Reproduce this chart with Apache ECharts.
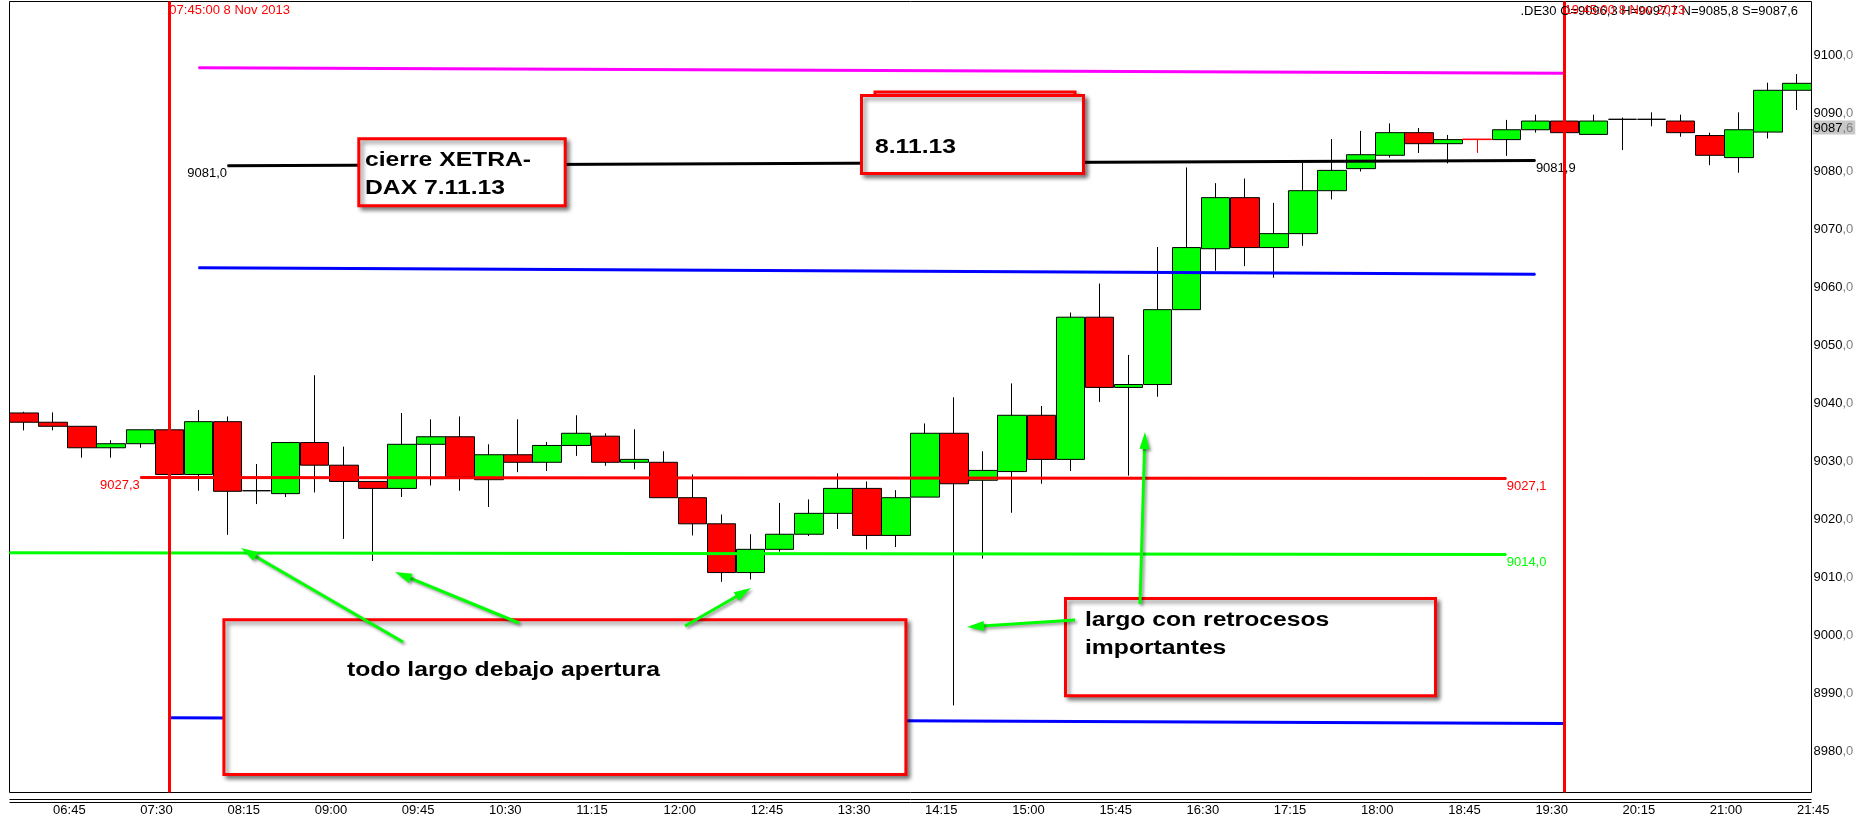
<!DOCTYPE html>
<html>
<head>
<meta charset="utf-8">
<title>DAX 8 Nov 2013</title>
<script src="https://cdn.jsdelivr.net/npm/echarts@6/dist/echarts.min.js"></script>
<style>
  html, body { margin: 0; padding: 0; background: #fff; }
  #chart { width: 1857px; height: 820px; }
</style>
</head>
<body>
<div id="chart"></div>
<script>
// velas de 15 minutos, 8 Nov 2013
const times = [
  '06:30', '06:45', '07:00', '07:15', '07:30', '07:45', '08:00', '08:15', '08:30', '08:45',
  '09:00', '09:15', '09:30', '09:45', '10:00', '10:15', '10:30', '10:45', '11:00', '11:15',
  '11:30', '11:45', '12:00', '12:15', '12:30', '12:45', '13:00', '13:15', '13:30', '13:45',
  '14:00', '14:15', '14:30', '14:45', '15:00', '15:15', '15:30', '15:45', '16:00', '16:15',
  '16:30', '16:45', '17:00', '17:15', '17:30', '17:45', '18:00', '18:15', '18:30', '18:45',
  '19:00', '19:15', '19:30', '19:45', '20:00', '20:15', '20:30', '20:45', '21:00', '21:15',
  '21:30', '21:45'
]
const openVals = [
  9038.4, 9036.8, 9036.1, 9032.4, 9033.1, 9035.5, 9027.8, 9036.9, 9025.0, 9024.5,
  9033.3, 9029.4, 9026.6, 9025.4, 9033.0, 9034.3, 9026.9, 9031.2, 9029.9, 9032.8,
  9034.4, 9029.9, 9029.9, 9023.8, 9019.3, 9010.9, 9014.9, 9017.5, 9021.1, 9025.4,
  9017.3, 9023.9, 9034.9, 9026.8, 9028.3, 9038.0, 9030.4, 9054.9, 9042.8, 9043.3,
  9056.2, 9066.7, 9075.5, 9066.9, 9069.3, 9076.7, 9080.5, 9082.8, 9086.7, 9084.8,
  9085.6, 9085.5, 9087.2, 9088.7, 9086.4, 9089.0, 9089.0, 9088.7, 9086.2, 9082.4,
  9086.8, 9094.0
]
const closeVals = [
  9036.8, 9036.1, 9032.4, 9033.1, 9035.5, 9027.8, 9036.9, 9024.9, 9025.0, 9033.3,
  9029.4, 9026.6, 9025.4, 9033.0, 9034.3, 9027.4, 9031.2, 9029.9, 9032.8, 9034.9,
  9029.9, 9030.4, 9023.8, 9019.3, 9010.9, 9014.9, 9017.5, 9021.1, 9025.4, 9017.3,
  9023.8, 9034.9, 9026.2, 9028.5, 9038.0, 9030.4, 9054.9, 9042.8, 9043.3, 9056.2,
  9066.9, 9075.5, 9066.9, 9069.3, 9076.7, 9080.2, 9082.9, 9086.7, 9084.8, 9085.5,
  9085.5, 9087.2, 9088.7, 9086.7, 9088.7, 9089.0, 9089.0, 9086.7, 9082.8, 9087.2,
  9094.0, 9095.2
]
const lowVals = [
  9035.4, 9035.4, 9030.7, 9030.7, 9032.4, 9027.6, 9025.0, 9017.4, 9022.7, 9023.9,
  9024.7, 9016.7, 9012.9, 9023.9, 9025.9, 9025.0, 9022.2, 9028.2, 9028.4, 9031.0,
  9029.3, 9028.7, 9023.8, 9017.3, 9009.3, 9009.7, 9014.5, 9017.2, 9018.4, 9014.9,
  9015.3, 9023.9, 8988.0, 9013.3, 9021.2, 9026.2, 9028.4, 9040.3, 9027.6, 9041.2,
  9056.2, 9062.9, 9063.7, 9061.7, 9067.2, 9075.2, 9080.0, 9082.4, 9083.2, 9081.4,
  9083.2, 9082.7, 9086.7, 9086.7, 9086.4, 9083.7, 9087.8, 9086.0, 9081.1, 9079.8,
  9085.7, 9090.6
]
const highVals = [
  9038.6, 9038.5, 9036.1, 9033.7, 9035.5, 9035.5, 9038.9, 9037.8, 9029.6, 9033.3,
  9044.9, 9032.6, 9026.6, 9038.4, 9037.3, 9037.8, 9033.0, 9037.3, 9033.4, 9038.0,
  9034.9, 9035.6, 9031.8, 9027.8, 9020.9, 9017.5, 9022.9, 9023.5, 9028.0, 9026.6,
  9025.1, 9036.6, 9041.1, 9031.8, 9043.5, 9039.6, 9055.7, 9060.7, 9048.4, 9067.0,
  9080.7, 9078.0, 9078.8, 9074.6, 9081.5, 9085.6, 9087.0, 9088.3, 9087.5, 9086.3,
  9085.6, 9088.9, 9089.8, 9088.7, 9089.8, 9089.3, 9090.2, 9089.8, 9086.7, 9090.2,
  9095.3, 9096.8
]

// niveles horizontales: desde / hasta (en velas) y valor al inicio y al final
const levelNames = ['maximo', 'cierre', 'r1', 'apertura', 'soporte', 's1']
const levelFrom = [6, 7, 6, 4, -0.5, 5]
const levelTo = [53, 52, 52, 51, 51, 53]
const levelStartVals = [9097.9, 9081.0, 9063.4, 9027.3, 9014.3, 8985.9]
const levelEndVals = [9096.95, 9081.9, 9062.3, 9027.1, 9014.0, 8984.9]

const yTicks = [8980, 8990, 9000, 9010, 9020, 9030, 9040, 9050, 9060, 9070, 9080, 9090, 9100]
const markedTimes = ['07:45', '19:45']
const cursorPrice = 9087.6
const quoteText = '.DE30 O=9096,3 H=9097,7 N=9085,8 S=9087,6'

// estilos
const levelColors = ['#ff00ff', '#000000', '#0000ff', '#ff0000', '#00ff00', '#0000ff']
const labelAtStart = [false, true, false, true, false, false]
const labelAtEnd = [false, true, false, true, true, false]

function fontExists(name) {
  const ctx = document.createElement('canvas').getContext('2d')
  const probe = '9100,0 07:45:00 Nov'
  ctx.font = '40px monospace'
  const base = ctx.measureText(probe).width
  ctx.font = '40px "' + name + '", monospace'
  return ctx.measureText(probe).width !== base
}
const hasNarrow = fontExists('Liberation Sans Narrow')
const smallFamily = hasNarrow ? '"Liberation Sans Narrow", "Arial Narrow", sans-serif' : '"Liberation Sans", Arial, sans-serif'
const smallSize = hasNarrow ? 15 : 13
const smallFont = smallSize + 'px ' + smallFamily
const noteFont = 'bold 20px "Liberation Sans", Arial, sans-serif'

const fmt = v => v.toFixed(1).replace('.', ',')
const richNum = v => {
  const parts = v.toFixed(1).split('.')
  return '{a|' + parts[0] + '}{b|,' + parts[1] + '}'
}
const richStyle = {
  a: { color: '#000', fontFamily: smallFamily, fontSize: smallSize },
  b: { color: '#808080', fontFamily: smallFamily, fontSize: smallSize },
}

const candleData = times.map((t, i) => {
  const item = { value: [openVals[i], closeVals[i], lowVals[i], highVals[i]] }
  // la vela de las 19:00 se dibuja toda en rojo
  if (t === '19:00') {
    item.itemStyle = { borderColor: '#ff0000', borderColor0: '#ff0000', borderColorDoji: '#ff0000' }
  }
  return item
})

const levelSeries = levelNames.map((name, k) => {
  const lbl = (show, pos) => ({
    show,
    position: pos,
    distance: 0,
    offset: [0, 8],
    color: levelColors[k],
    fontFamily: smallFamily,
    fontSize: smallSize,
    formatter: p => fmt(p.value[1]),
  })
  return {
    type: 'line',
    name,
    xAxisIndex: 1,
    yAxisIndex: 0,
    z: 3,
    silent: true,
    symbol: 'circle',
    symbolSize: 1,
    showSymbol: true,
    lineStyle: { color: levelColors[k], width: 3 },
    itemStyle: { color: levelColors[k] },
    data: [
      { value: [levelFrom[k], levelStartVals[k]], label: lbl(labelAtStart[k], 'left') },
      { value: [levelTo[k], levelEndVals[k]], label: lbl(labelAtEnd[k], 'right') },
    ],
  }
})

const option = {
  animation: false,
  backgroundColor: '#fff',
  grid: {
    left: 9.5,
    top: 1.5,
    right: 45.5,
    bottom: 27.5,
    show: true,
    borderColor: '#000',
    borderWidth: 1,
    backgroundColor: '#fff',
    containLabel: false,
    outerBoundsMode: 'none',
  },
  xAxis: [
    {
      type: 'category',
      data: times,
      boundaryGap: true,
      axisLine: { show: false },
      axisTick: { show: false },
      splitLine: { show: false },
      axisLabel: {
        interval: i => (i - 1) % 3 === 0,
        align: 'left',
        margin: 11,
        color: '#000',
        fontFamily: smallFamily,
        fontSize: smallSize,
      },
    },
    { type: 'value', min: -0.5, max: 61.5, show: false },
  ],
  yAxis: {
    type: 'value',
    position: 'right',
    min: 8973.0,
    max: 9109.3,
    axisLine: { show: false },
    axisTick: { show: false },
    splitLine: { show: false },
    axisLabel: {
      customValues: yTicks,
      margin: 2,
      formatter: v => richNum(v),
      rich: richStyle,
    },
  },
  series: [
    {
      type: 'candlestick',
      name: '.DE30',
      xAxisIndex: 0,
      yAxisIndex: 0,
      z: 2,
      barWidth: '100%',
      silent: true,
      itemStyle: {
        color: '#00ff00',
        color0: '#ff0000',
        borderColor: '#000',
        borderColor0: '#000',
        borderColorDoji: '#000',
        borderWidth: 1,
      },
      data: candleData,
      markLine: {
        silent: true,
        symbol: ['none', 'none'],
        animation: false,
        lineStyle: { color: '#ff0000', width: 3, type: 'solid' },
        label: { show: false },
        data: [
          ...markedTimes.map(t => ({ xAxis: t })),
          {
            yAxis: cursorPrice,
            lineStyle: { width: 0, color: 'rgba(0,0,0,0)' },
            label: {
              show: true,
              position: 'end',
              distance: 1,
              backgroundColor: '#c8c8c8',
              padding: [1, 2, 0, 1],
              formatter: () => richNum(cursorPrice),
              rich: richStyle,
            },
          },
        ],
      },
    },
    ...levelSeries,
  ],
}

const chart = echarts.init(document.getElementById('chart'))
chart.setOption(option)

// anotaciones dibujadas a mano sobre el gráfico
const shadow = { shadowBlur: 4, shadowOffsetX: 3, shadowOffsetY: 3, shadowColor: 'rgba(0,0,0,0.45)' }

function box(x, y, w, h) {
  return {
    type: 'rect',
    z: 50,
    shape: { x, y, width: w, height: h },
    style: Object.assign({ fill: '#fff', stroke: '#ff0000', lineWidth: 3 }, shadow),
  }
}

function note(text, x, y, color) {
  return {
    type: 'text',
    z: 51,
    x,
    y,
    scaleX: 1.235,
    style: {
      x: 0, y: 0, text, font: noteFont, fill: color || '#000',
      align: 'left', textAlign: 'left', verticalAlign: 'middle', textVerticalAlign: 'middle',
    },
  }
}

function small(text, x, y, color, align) {
  return {
    type: 'text',
    z: 40,
    x,
    y,
    style: {
      x: 0, y: 0, text, font: smallFont, fill: color,
      align: align || 'left', textAlign: align || 'left',
      verticalAlign: 'middle', textVerticalAlign: 'middle',
    },
  }
}

function arrow(x1, y1, x2, y2) {
  const ang = Math.atan2(y2 - y1, x2 - x1)
  const len = 17
  const half = 5
  const bx = x2 - len * Math.cos(ang)
  const by = y2 - len * Math.sin(ang)
  const nx = -Math.sin(ang) * half
  const ny = Math.cos(ang) * half
  const s = { shadowBlur: 3, shadowOffsetX: 2, shadowOffsetY: 2, shadowColor: 'rgba(0,0,0,0.4)' }
  return [
    {
      type: 'line', z: 60,
      shape: { x1, y1, x2: bx + 2 * Math.cos(ang), y2: by + 2 * Math.sin(ang) },
      style: Object.assign({ stroke: '#00ff00', lineWidth: 3 }, s),
    },
    {
      type: 'polygon', z: 60,
      shape: { points: [[x2, y2], [bx + nx, by + ny], [bx - nx, by - ny]] },
      style: Object.assign({ fill: '#00ff00' }, s),
    },
  ]
}

const elements = [
  // doble línea bajo el área del gráfico
  { type: 'line', z: 40, shape: { x1: 9.5, y1: 799.5, x2: 1811.5, y2: 799.5 }, style: { stroke: '#000', lineWidth: 1 } },
  { type: 'line', z: 40, shape: { x1: 9.5, y1: 802.5, x2: 1811.5, y2: 802.5 }, style: { stroke: '#000', lineWidth: 1 } },
  small(quoteText, 1798, 11, '#000', 'right'),
  ...markedTimes.map(t => small(t + ':00 8 Nov 2013', chart.convertToPixel({ xAxisIndex: 0 }, t), 10, '#ff0000')),

  box(358.8, 138.8, 206.4, 67),
  note('cierre XETRA-', 365, 160.8),
  note('DAX 7.11.13', 365, 188.8),

  box(875, 92, 200, 40),
  note('9.11.13', 875, 112, '#f0f0f0'),
  box(861.5, 95.5, 222, 78),
  note('8.11.13', 875, 147),

  box(223.9, 619.8, 682, 154.7),
  note('todo largo debajo apertura', 347, 670.8),

  box(1065.5, 598.5, 370, 97.3),
  note('largo con retrocesos', 1085, 620),
  note('importantes', 1085, 648),

  ...arrow(403, 642, 241, 548),
  ...arrow(519, 623, 395, 572),
  ...arrow(685, 626, 751, 588),
  ...arrow(1075, 620, 967, 627),
  ...arrow(1140, 604, 1145, 432),
]
// el cuadro de 8.11.13 tapa al de detrás salvo su borde superior
elements[8].z = 49
elements[9].z = 49

chart.setOption({ graphic: { elements } })
window.addEventListener('resize', () => chart.resize())
</script>
</body>
</html>
